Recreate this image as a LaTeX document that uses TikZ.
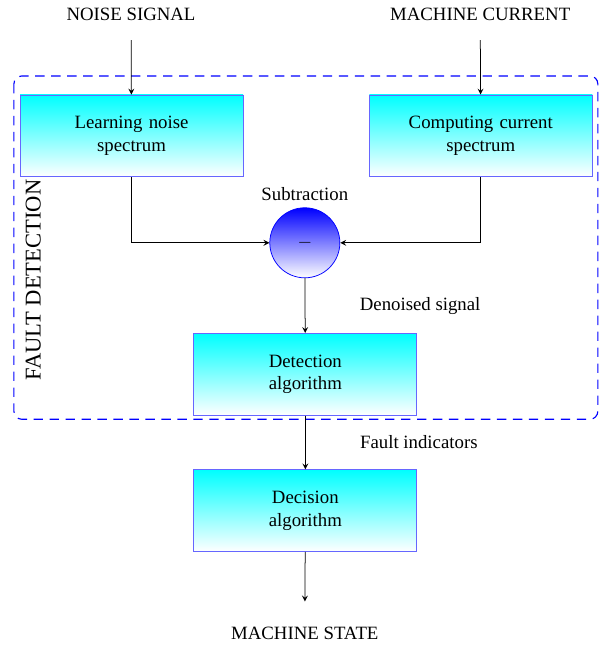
\documentclass[tikz,border=0pt]{standalone}
\usepackage{fontspec}
\setmainfont{Liberation Serif}
\usepackage{tikz}
\usetikzlibrary{shapes.geometric, arrows, positioning, calc}
\tikzstyle{process} = [rectangle, minimum width=4.17cm, minimum height=1.53cm, text centered, text width=3cm, draw=blue!60, top color=cyan, bottom color=white]
\tikzstyle{sumnode} = [circle, minimum size=1.31cm, draw=blue, top color=blue, bottom color=white]
\tikzstyle{arrow} = [->,>=stealth]

\begin{document}
\begin{tikzpicture}
    \useasboundingbox (0,0) rectangle (11.31,-12.08);
    \draw [blue, semithick, dash pattern=on 5pt off 3.5pt, rounded corners=0.15cm] (0.26,-1.42) rectangle (11.18,-7.84);
    \node (fault) [rotate=90] at (0.62,-5.24) {\large FAULT DETECTION};

    \node (noise) at (2.45,-0.26) {NOISE SIGNAL};
    \node (current) at (8.98,-0.26) {MACHINE CURRENT};
    \node (learn) [process] at (2.46,-2.54) {Learning noise\\spectrum};
    \node (compute) [process] at (8.99,-2.54) {Computing current\\spectrum};
    \node (sub) [sumnode] at (5.70,-4.54) {$-$};
    \node [above=0pt of sub] {Subtraction};
    \node (detect) [process] at (5.71,-7.00) {Detection\\algorithm};
    \node (decide) [process] at (5.71,-9.55) {Decision\\algorithm};
    \node (state) at (5.70,-11.84) {MACHINE STATE};

    \draw [arrow, shorten <=0.25cm] (noise) -- (learn);
    \draw [arrow, shorten <=0.25cm] (current) -- (compute);
    \draw [arrow] (learn.south) |- (sub.west);
    \draw [arrow] (compute.south) |- (sub.east);
    \draw [arrow] (sub) -- node[right=0.9cm, pos=0.5]{Denoised signal} (detect);
    \draw [arrow] (detect) -- node[right=0.9cm, pos=0.5]{Fault indicators} (decide);
    \draw [arrow, shorten >=0.35cm] (decide) -- (state);
  \end{tikzpicture}
\end{document}
